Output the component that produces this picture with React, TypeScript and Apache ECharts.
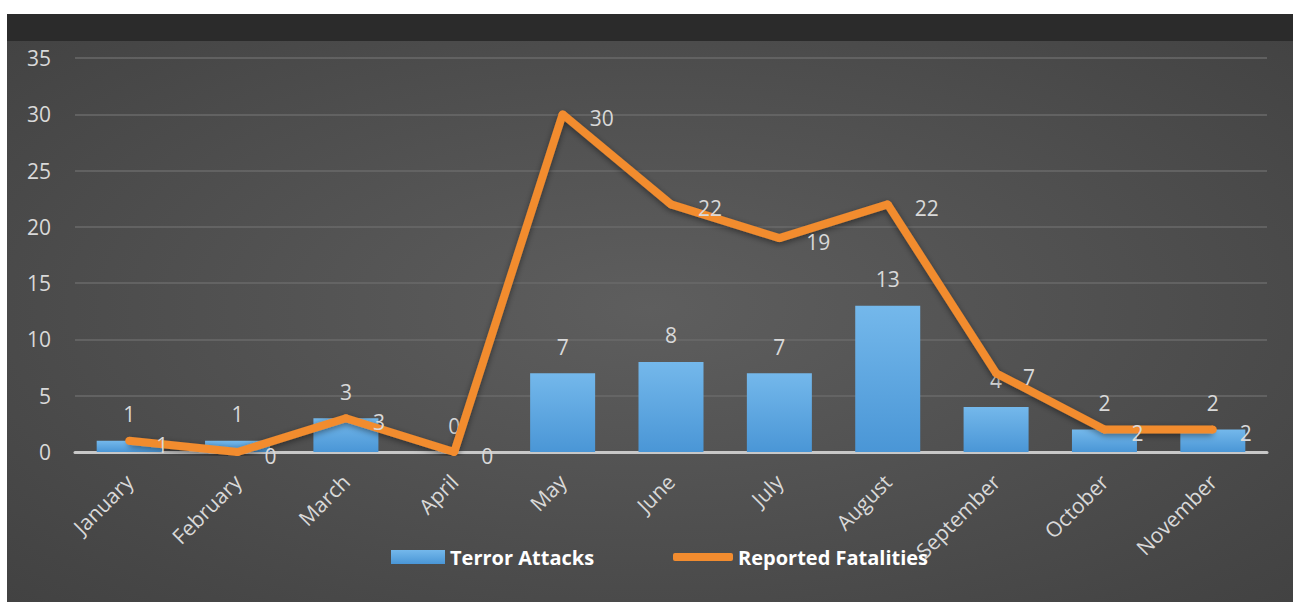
import React, { useEffect, useRef } from "react";
import * as echarts from "echarts";

const months = ["January", "February", "March", "April", "May", "June", "July", "August", "September", "October", "November"];
const terrorAttacks = [1, 1, 3, 0, 7, 8, 7, 13, 4, 2, 2];
const reportedFatalities = [1, 0, 3, 0, 30, 22, 19, 22, 7, 2, 2];
const yTicks = { min: 0, max: 35, interval: 5 };

const FONT = "'Open Sans', sans-serif";
const LABEL = "#d9d9d9";
const ORANGE = "#f28c2f";

export default function App() {
  const ref = useRef<HTMLDivElement>(null);
  useEffect(() => {
    if (!ref.current) return;
    const chart = echarts.init(ref.current, null, { renderer: "svg" });
    chart.setOption({
      animation: false,
      backgroundColor: "#ffffff",
      textStyle: { fontFamily: FONT },
      graphic: [
        {
          type: "rect",
          z: -10,
          silent: true,
          shape: { x: 7, y: 14, width: 1286, height: 588 },
          style: {
            fill: new echarts.graphic.RadialGradient(0.5, 0.5, 1.25, [
              { offset: 0, color: "#5e5e5e" },
              { offset: 0.5, color: "#454545" },
              { offset: 1, color: "#2e2e2e" },
            ]),
          },
        },
        {
          type: "rect",
          z: -9,
          silent: true,
          shape: { x: 7, y: 14, width: 1286, height: 27 },
          style: { fill: "#2b2b2b" },
        },
      ],
      grid: { left: 75, right: 26, top: 58, bottom: 150, containLabel: false },
      legend: [
        {
          data: ["Terror Attacks"],
          left: 386,
          top: 542,
          itemWidth: 54,
          itemHeight: 14,
          itemGap: 10,
          icon: "rect",
          textStyle: { color: "#ffffff", fontSize: 20, fontWeight: "bold", fontFamily: FONT },
        },
        {
          data: ["Reported Fatalities"],
          left: 668,
          top: 542,
          itemWidth: 60,
          itemHeight: 8,
          icon: "roundRect",
          itemStyle: { color: ORANGE },
          textStyle: { color: "#ffffff", fontSize: 20, fontWeight: "bold", fontFamily: FONT },
        },
      ],
      xAxis: {
        type: "category",
        data: months,
        axisLine: { lineStyle: { color: "#c8c8c8", width: 3 } },
        axisTick: { show: false },
        axisLabel: {
          rotate: 45,
          interval: 0,
          color: LABEL,
          fontSize: 21,
          margin: 26,
          fontFamily: FONT,
        },
      },
      yAxis: {
        type: "value",
        min: yTicks.min,
        max: yTicks.max,
        interval: yTicks.interval,
        axisLine: { show: false },
        axisTick: { show: false },
        splitLine: { lineStyle: { color: "#6a6a6a", width: 1.5 } },
        axisLabel: { color: LABEL, fontSize: 21, margin: 24, fontFamily: FONT },
      },
      series: [
        {
          name: "Terror Attacks",
          type: "bar",
          data: terrorAttacks,
          barWidth: 65,
          itemStyle: {
            color: new echarts.graphic.LinearGradient(0, 0, 0, 1, [
              { offset: 0, color: "#74b8eb" },
              { offset: 1, color: "#4a96d6" },
            ]),
          },
          label: {
            show: true,
            position: "top",
            distance: 16,
            color: LABEL,
            fontSize: 21,
            fontFamily: FONT,
          },
        },
        {
          name: "Reported Fatalities",
          type: "line",
          data: reportedFatalities,
          symbol: "circle",
          symbolSize: 8,
          showSymbol: true,
          itemStyle: { color: ORANGE },
          lineStyle: {
            color: ORANGE,
            width: 8,
            shadowColor: "rgba(0,0,0,0.45)",
            shadowBlur: 6,
            shadowOffsetY: 2,
          },
          label: {
            show: true,
            position: "right",
            distance: 23,
            offset: [0, 4],
            color: LABEL,
            fontSize: 21,
            fontFamily: FONT,
          },
          z: 3,
        },
      ],
    });
    return () => chart.dispose();
  }, []);
  return (
    <div style={{ position: "absolute", left: 0, top: 0, width: 1293, height: 602 }}>
      <div ref={ref} style={{ width: 1293, height: 602 }} />
    </div>
  );
}
